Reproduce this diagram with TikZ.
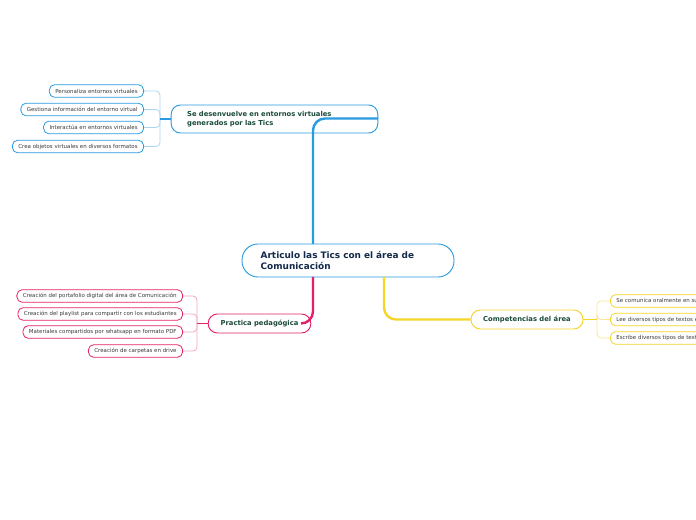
\documentclass[tikz,border=0pt]{standalone}
\usepackage{fontspec}
\setmainfont{DejaVu Sans}
\usetikzlibrary{positioning}
\definecolor{ticBlue}{HTML}{2A9BE0}
\definecolor{ticBlueLight}{HTML}{A9D5F4}
\definecolor{ticPink}{HTML}{E5206A}
\definecolor{ticPinkLight}{HTML}{F2A7C3}
\definecolor{ticYellow}{HTML}{F6D428}
\definecolor{ticYellowLight}{HTML}{FAE699}
\definecolor{rootText}{HTML}{13294B}
\definecolor{branchText}{HTML}{1B4A3A}
\definecolor{leafText}{HTML}{3A3A3A}

\begin{document}
\begin{tikzpicture}[x=0.75pt, y=-0.75pt,
    rootbox/.style={draw=ticBlue, line width=0.7pt, fill=white, rounded corners=12pt,
      font=\bfseries\fontsize{6.7}{8.2}\selectfont, text=rootText, align=left,
      minimum width=159pt, minimum height=24.75pt, inner xsep=14pt, text width=131pt},
    branchbox/.style={draw=#1, line width=0.7pt, fill=white, rounded corners=7pt,
      font=\bfseries\fontsize{5.1}{6.4}\selectfont, text=branchText},
    leafbox/.style={draw=#1, line width=0.6pt, fill=white, rounded corners=4pt,
      font=\fontsize{4.1}{4.9}\selectfont, text=leafText,
      minimum height=9.5pt, inner xsep=4.5pt, inner ysep=0pt},
    thickline/.style={draw=#1, line width=1.8pt, rounded corners=9pt},
    joinline/.style={draw=#1, line width=1.2pt},
    thinline/.style={draw=#1, line width=0.6pt, rounded corners=3pt}]
  \useasboundingbox (0,0) rectangle (696,520);
  \clip (0,0) rectangle (696,520);

  % central topic
  \node[rootbox] (root) at (348,260.5)
    {Articulo las Tics con el área de\\Comunicación};

  % branches
  \node[branchbox=ticBlue, align=left, minimum width=155pt, minimum height=21pt,
    inner xsep=12pt, text width=131pt] (virtual) at (274.5,119)
    {Se desenvuelve en entornos virtuales\\generados por las Tics};
  \node[branchbox=ticPink, minimum width=77pt, minimum height=14.25pt] (practica) at (259.5,323.5)
    {Practica pedagógica};
  \node[branchbox=ticYellow, minimum width=84pt, minimum height=14.25pt] (compet) at (527,319.5)
    {Competencias del área};

  % main connectors
  \coordinate (blueStart) at (313,244);
  \coordinate (blueEnd) at (378,118.5);
  \coordinate (pinkStart) at (313,277);
  \coordinate (pinkEnd) at (301,323.5);
  \coordinate (yellowStart) at (384,277);
  \draw[thickline=ticBlue] (blueStart) |- (blueEnd);
  \draw[thickline=ticPink] (pinkStart) |- (pinkEnd);
  \draw[thickline=ticYellow] (yellowStart) |- (compet.west);

  % leaves of the blue branch
  \node[leafbox=ticBlue, anchor=east] (v1) at (144,91) {Personaliza entornos virtuales};
  \node[leafbox=ticBlue, anchor=east] (v2) at (144,109.5) {Gestiona información del entorno virtual};
  \node[leafbox=ticBlue, anchor=east] (v3) at (144,127.5) {Interactúa en entornos virtuales};
  \node[leafbox=ticBlue, anchor=east] (v4) at (144,146.5) {Crea objetos virtuales en diversos formatos};
  \coordinate (vJoin) at (160,119);
  \foreach \n in {v1,v2,v3,v4}
    \draw[thinline=ticBlueLight] (vJoin) |- (\n.east);
  \draw[joinline=ticBlue] (virtual.west) -- (vJoin);

  % leaves of the pink branch
  \node[leafbox=ticPink, anchor=east] (p1) at (183,296) {Creación del portafolio digital del área de Comunicación};
  \node[leafbox=ticPink, anchor=east] (p2) at (183,314) {Creación del playlist para compartir con los estudiantes};
  \node[leafbox=ticPink, anchor=east] (p3) at (183,332) {Materiales compartidos por whatsapp en formato PDF};
  \node[leafbox=ticPink, anchor=east] (p4) at (183,351) {Creación de carpetas en drive};
  \coordinate (pJoin) at (197,323.5);
  \foreach \n in {p1,p2,p3,p4}
    \draw[thinline=ticPinkLight] (pJoin) |- (\n.east);
  \draw[joinline=ticPink] (practica.west) -- (pJoin);

  % leaves of the yellow branch
  \node[leafbox=ticYellow, anchor=west] (c1) at (610,301) {Se comunica oralmente en su lengua materna};
  \node[leafbox=ticYellow, anchor=west] (c2) at (610,319.5) {Lee diversos tipos de textos escritos en su lengua materna};
  \node[leafbox=ticYellow, anchor=west] (c3) at (610,338) {Escribe diversos tipos de textos en su lengua materna};
  \coordinate (cJoin) at (597,319.5);
  \foreach \n in {c1,c2,c3}
    \draw[thinline=ticYellowLight] (cJoin) |- (\n.west);
  \draw[joinline=ticYellow] (compet.east) -- (cJoin);
\end{tikzpicture}
\end{document}
